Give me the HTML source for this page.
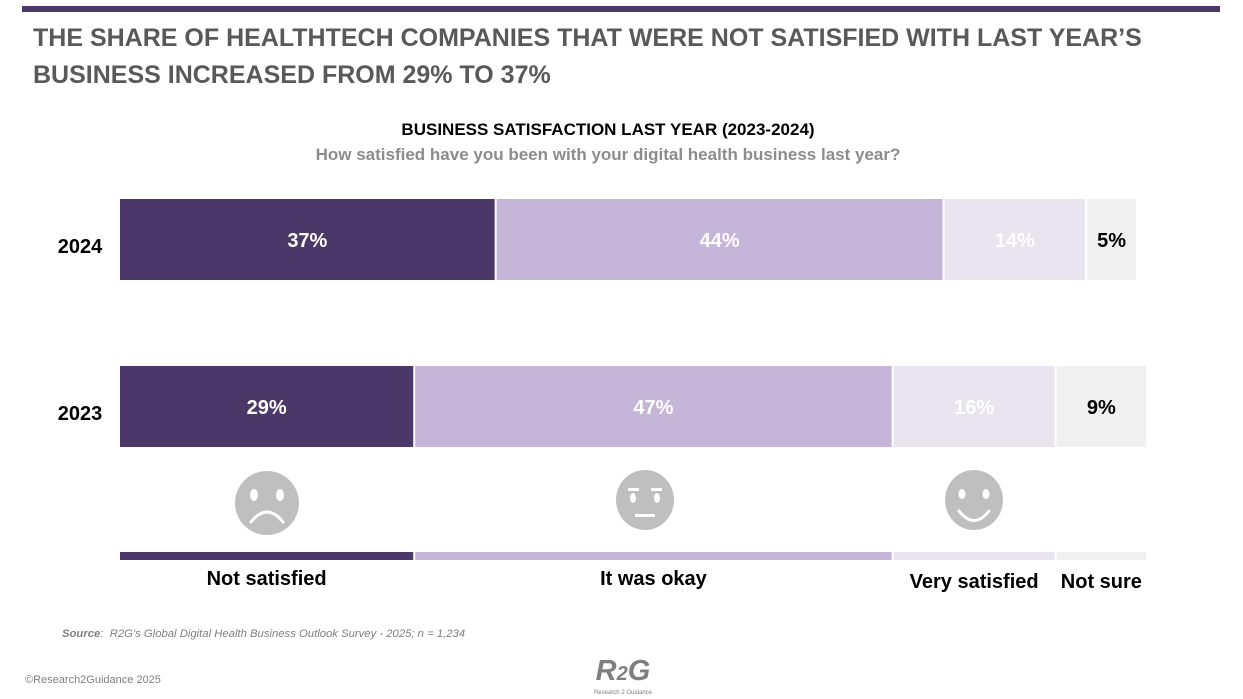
<!DOCTYPE html>
<html><head><meta charset="utf-8"><style>
body{margin:0;width:1243px;height:699px;background:#fff;font-family:"Liberation Sans",sans-serif;position:relative;overflow:hidden}
.abs{position:absolute}
</style></head><body>
<div class="abs" style="left:22px;top:6px;width:1198px;height:6px;background:#4b3869"></div>
<div class="abs" style="left:33px;top:20px;font-size:25px;font-weight:bold;color:#595959;line-height:37px">THE SHARE OF HEALTHTECH COMPANIES THAT WERE NOT SATISFIED WITH LAST YEAR’S<br>BUSINESS INCREASED FROM 29% TO 37%</div>
<div class="abs" style="left:0;width:1216px;top:120px;text-align:center;font-size:17px;font-weight:bold;color:#000">BUSINESS SATISFACTION LAST YEAR (2023-2024)</div>
<div class="abs" style="left:0;width:1216px;top:145px;text-align:center;font-size:17px;font-weight:bold;color:#8c8c8c">How satisfied have you been with your digital health business last year?</div>
<svg class="abs" style="left:0;top:0" width="1243" height="699">
<g id="bars"></g>
<g>
<ellipse cx="267" cy="503" rx="32" ry="32" fill="#bfbfbf"/>
<ellipse cx="254" cy="495" rx="4" ry="6" fill="#fff"/><ellipse cx="280" cy="495" rx="4" ry="6" fill="#fff"/>
<path d="M251 522 Q267 502 283 522" stroke="#fff" stroke-width="3" fill="none" stroke-linecap="round"/></g>
<g>
<ellipse cx="645" cy="500" rx="29" ry="30" fill="#bfbfbf"/>
<rect x="628" y="488" width="11" height="3" fill="#fff"/><rect x="651" y="488" width="11" height="3" fill="#fff"/>
<ellipse cx="633" cy="498" rx="3" ry="5" fill="#fff"/><ellipse cx="657" cy="498" rx="3" ry="5" fill="#fff"/>
<rect x="635" y="514" width="20" height="3" fill="#fff"/></g>
<g>
<ellipse cx="974" cy="500" rx="29" ry="30" fill="#bfbfbf"/>
<ellipse cx="962" cy="494" rx="3.5" ry="5" fill="#fff"/><ellipse cx="986" cy="494" rx="3.5" ry="5" fill="#fff"/>
<path d="M959 511 Q974 530 989 511" stroke="#fff" stroke-width="3" fill="none" stroke-linecap="round"/></g>
</svg>
<div class="abs" style="left:62px;top:628px;font-size:11.3px;font-style:italic;color:#7f7f7f"><b>Source</b>:&nbsp; R2G's Global Digital Health Business Outlook Survey - 2025; n = 1,234</div>
<div class="abs" style="left:25px;top:674px;font-size:11px;color:#7f7f7f">©Research2Guidance 2025</div>
<div class="abs" style="left:588px;top:656px;width:70px;text-align:center;color:#7f7f7f"><div style="font-size:29px;font-weight:bold;font-style:italic;line-height:30px">R<span style="font-size:20px">2</span>G</div><div style="font-size:6px;line-height:8px">Research 2 Guidance</div></div>
<script>
const years=["2024","2023"];
const categories=["Not satisfied","It was okay","Very satisfied","Not sure"];
const v2024=[37,44,14,5];
const v2023=[29,47,16,9];
const colors=["#4b3869","#c4b5d9","#e8e4f0","#f0f0f0"];
const txtColors=["#fff","#fff","#fff","#000"];
const NS="http://www.w3.org/2000/svg";
const g=document.getElementById('bars');
const x=p=>120+p*10.18;
const rowY={"2024":199,"2023":366};
function mk(t,a){const e=document.createElementNS(NS,t);for(const k in a)e.setAttribute(k,a[k]);g.appendChild(e);return e;}
[v2024,v2023].forEach((vals,ri)=>{
 const yr=years[ri];const y=rowY[yr];let c=0;
 const yl=mk('text',{x:80,y:y+54,'text-anchor':'middle','font-size':20,'font-weight':'bold',fill:'#000'});
 yl.textContent=yr;
 
 
 vals.forEach((v,i)=>{
  const x0=x(c),x1=x(c+v);c+=v;
  const r=mk('rect',{x:x0,y:y,width:x1-x0-2,height:81,fill:colors[i]});
  
  
  const t=mk('text',{x:(x0+x1-2)/2,y:y+48,'text-anchor':'middle','font-size':20,'font-weight':'bold',fill:txtColors[i]});
  t.textContent=v+'%';
  
  
  if(yr==="2023"){
   const l=mk('rect',{x:x0,y:552,width:x1-x0-2,height:8,fill:colors[i]});
   
   
   const lt=mk('text',{x:(x0+x1-2)/2,y:i<2?585:588,'text-anchor':'middle','font-size':20,'font-weight':'bold',fill:'#000'});
   lt.textContent=categories[i];
   
   
  }
 });
});
</script>
</body></html>
